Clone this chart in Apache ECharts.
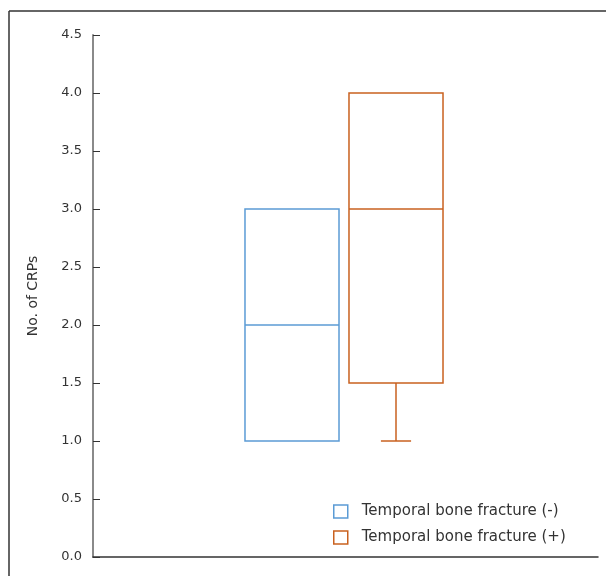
<!DOCTYPE html>
<html>
<head>
<meta charset="utf-8">
<script src="https://cdn.jsdelivr.net/npm/echarts@6/dist/echarts.min.js"></script>
<style>html,body{margin:0;padding:0;background:#fff}#c{width:606px;height:576px}</style>
</head>
<body>
<div id="c"></div>
<script>
const groups = ['Temporal bone fracture (-)', 'Temporal bone fracture (+)'];
const slots = ['(-)', '(+)'];
const minVals = [1.0, 1.0];
const q1Vals = [1.0, 1.5];
const medianVals = [2.0, 3.0];
const q3Vals = [3.0, 4.0];
const maxVals = [3.0, 4.0];
const colors = ['#5b9bd5', '#c9611f'];
const yMin = 0, yMax = 4.5, yStep = 0.5;
const yName = 'No. of CRPs';

const FONT = 'DejaVu Sans';

function renderItem(params, api) {
  const x = api.value(0);
  const band = api.size([1, 0])[0];
  const bw = band * 0.904;
  const cap = band * 0.29;
  const pMin = api.coord([x, api.value(1)]);
  const pQ1 = api.coord([x, api.value(2)]);
  const pMed = api.coord([x, api.value(3)]);
  const pQ3 = api.coord([x, api.value(4)]);
  const pMax = api.coord([x, api.value(5)]);
  const cx = pMed[0];
  const stroke = colors[params.seriesIndex];
  const st = { stroke: stroke, lineWidth: 1.5, fill: null };
  const children = [
    { type: 'rect', shape: { x: cx - bw / 2, y: pQ3[1], width: bw, height: pQ1[1] - pQ3[1] }, style: { stroke: stroke, lineWidth: 1.5, fill: '#fff' } },
    { type: 'line', shape: { x1: cx - bw / 2, y1: pMed[1], x2: cx + bw / 2, y2: pMed[1] }, style: st }
  ];
  if (pMin[1] - pQ1[1] > 0.5) {
    children.push({ type: 'line', shape: { x1: cx, y1: pQ1[1], x2: cx, y2: pMin[1] }, style: st });
    children.push({ type: 'line', shape: { x1: cx - cap / 2, y1: pMin[1], x2: cx + cap / 2, y2: pMin[1] }, style: st });
  }
  if (pQ3[1] - pMax[1] > 0.5) {
    children.push({ type: 'line', shape: { x1: cx, y1: pQ3[1], x2: cx, y2: pMax[1] }, style: st });
    children.push({ type: 'line', shape: { x1: cx - cap / 2, y1: pMax[1], x2: cx + cap / 2, y2: pMax[1] }, style: st });
  }
  return { type: 'group', children: children };
}

const series = groups.map((g, i) => ({
  name: g,
  type: 'custom',
  xAxisIndex: 1,
  yAxisIndex: 1,
  renderItem: renderItem,
  itemStyle: { color: colors[i], borderColor: colors[i], borderWidth: 1.5 },
  encode: { x: 0, y: [1, 2, 3, 4, 5] },
  data: [[i, minVals[i], q1Vals[i], medianVals[i], q3Vals[i], maxVals[i]]]
}));

const chart = echarts.init(document.getElementById('c'), null, { renderer: 'canvas' });
chart.setOption({
  backgroundColor: '#fff',
  animation: false,
  textStyle: { fontFamily: FONT },
  grid: [
    { left: 93, right: 8, top: 35, bottom: 19, containLabel: false },
    { left: 240, width: 208, top: 35, bottom: 19, containLabel: false }
  ],
  xAxis: [
    { type: 'value', gridIndex: 0, min: 0, max: 1, axisLine: { show: true, onZero: false, lineStyle: { color: '#333', width: 1.5 } }, axisTick: { show: false }, axisLabel: { show: false }, splitLine: { show: false } },
    { type: 'category', gridIndex: 1, data: slots, show: false }
  ],
  yAxis: [
    {
      type: 'value', gridIndex: 0, min: yMin, max: yMax, interval: yStep,
      name: yName, nameLocation: 'middle', nameGap: 53, nameRotate: 90,
      nameTextStyle: { fontFamily: FONT, fontSize: 14, color: '#333' },
      axisLine: { show: true, lineStyle: { color: '#8a8a8a', width: 2 } },
      axisTick: { show: true, inside: true, length: 7, lineStyle: { color: '#333', width: 1 } },
      axisLabel: { margin: 11, fontFamily: FONT, fontSize: 13, color: '#333', formatter: v => v.toFixed(1) },
      splitLine: { show: false }
    },
    { type: 'value', gridIndex: 1, min: yMin, max: yMax, show: false, splitLine: { show: false } }
  ],
  legend: {
    orient: 'vertical', left: 328, top: 499,
    itemWidth: 14, itemHeight: 13, itemGap: 11,
    textStyle: { fontFamily: FONT, fontSize: 15, color: '#333', padding: [0, 0, 0, 9] },
    data: groups.map((g, i) => ({ name: g, icon: 'rect', itemStyle: { color: '#fff', borderColor: colors[i], borderWidth: 1.5 } }))
  },
  graphic: [
    { type: 'line', shape: { x1: 9, y1: 11, x2: 606, y2: 11 }, style: { stroke: '#333', lineWidth: 1.5 } },
    { type: 'line', shape: { x1: 9, y1: 11, x2: 9, y2: 576 }, style: { stroke: '#333', lineWidth: 1.5 } }
  ],
  series: series
});
</script>
</body>
</html>
